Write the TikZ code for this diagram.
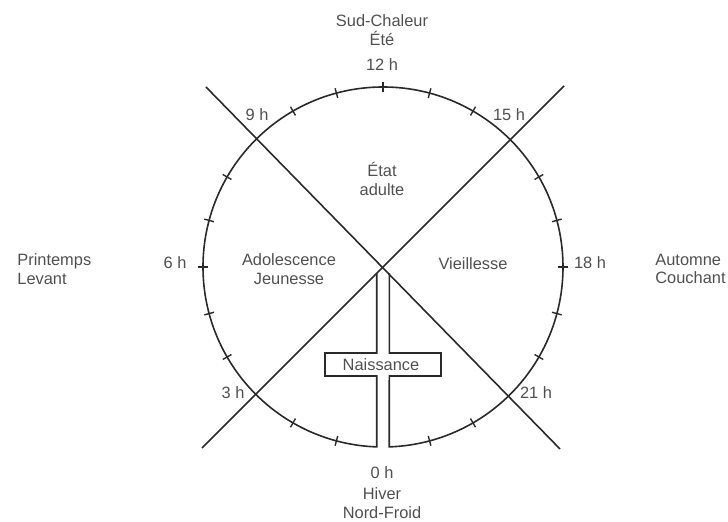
\documentclass[tikz,border=0pt]{standalone}
\usepackage{fontspec}
\setmainfont{Liberation Sans}
\usepackage{xcolor}
\usetikzlibrary{positioning,calc}
\definecolor{dialink}{HTML}{2A2A2A}
\definecolor{dialtext}{HTML}{505050}
\tikzset{
  ring/.style   ={draw=dialink,line width=0.8pt},
  hourmark/.style={draw=dialink,line width=0.7pt},
  lbl/.style    ={font=\fontsize{8.2}{9.4}\selectfont,text=dialtext,align=center,inner sep=1pt},
  side/.style   ={lbl,align=left,anchor=west},
}

\begin{document}
\begin{tikzpicture}[x=0.5pt,y=0.5pt]
  \useasboundingbox (-383,-255) rectangle (345,267);
  \coordinate (O) at (0,0);
  \coordinate (nw) at (-177,180);
  \coordinate (se) at (177,-182);
  \coordinate (ne) at (181,181);
  \coordinate (sw) at (-181,-181);

  % diagonals
  \draw[ring] (nw) -- (se);
  \draw[ring] (sw) -- (ne);

  % dial with the cross of birth
  \draw[ring] (6.3,-6.3) -- (6.3,-86) -- (58,-86) -- (58,-109) -- (6.3,-109)
    -- (-88:180) arc[start angle=-88,end angle=268,radius=180]
    -- (-6.3,-109) -- (-58,-109) -- (-58,-86) -- (-6.3,-86) -- (-6.3,-6.3);

  \foreach \h in {1,2,4,5,6,7,8,10,11,12,13,14,16,17,18,19,20,22,23}
    \draw[hourmark] ({270-15*\h}:175) -- ({270-15*\h}:185);

  % hours
  \node[lbl] (h12) at (-1,202) {12 h};
  \node[lbl] (h9)  at (-126,152) {9 h};
  \node[lbl] (h15) at (126,152) {15 h};
  \node[lbl] (h6)  at (-208,4) {6 h};
  \node[lbl] (h18) at (207,4) {18 h};
  \node[lbl] (h3)  at (-150,-126) {3 h};
  \node[lbl] (h21) at (153,-126) {21 h};
  \node[lbl] (h0)  at (-1,-206) {0 h};

  % seasons
  \node[lbl] (sud)  at (-1,237) {Sud-Chaleur\\Été};
  \node[lbl] (nord) at (-1,-236) {Hiver\\Nord-Froid};
  \node[side] (est)  at (-368,-2) {Printemps\\Levant};
  \node[side] (ouest) at (270,-2) {Automne\\Couchant};

  % ages
  \node[lbl] (adulte) at (-1,88) {État\\adulte};
  \node[lbl] (jeune)  at (-94,-2) {Adolescence\\Jeunesse};
  \node[lbl] (vieux)  at (90,3) {Vieillesse};
  \node[lbl] (naiss)  at (-2,-98) {Naissance};
\end{tikzpicture}
\end{document}
